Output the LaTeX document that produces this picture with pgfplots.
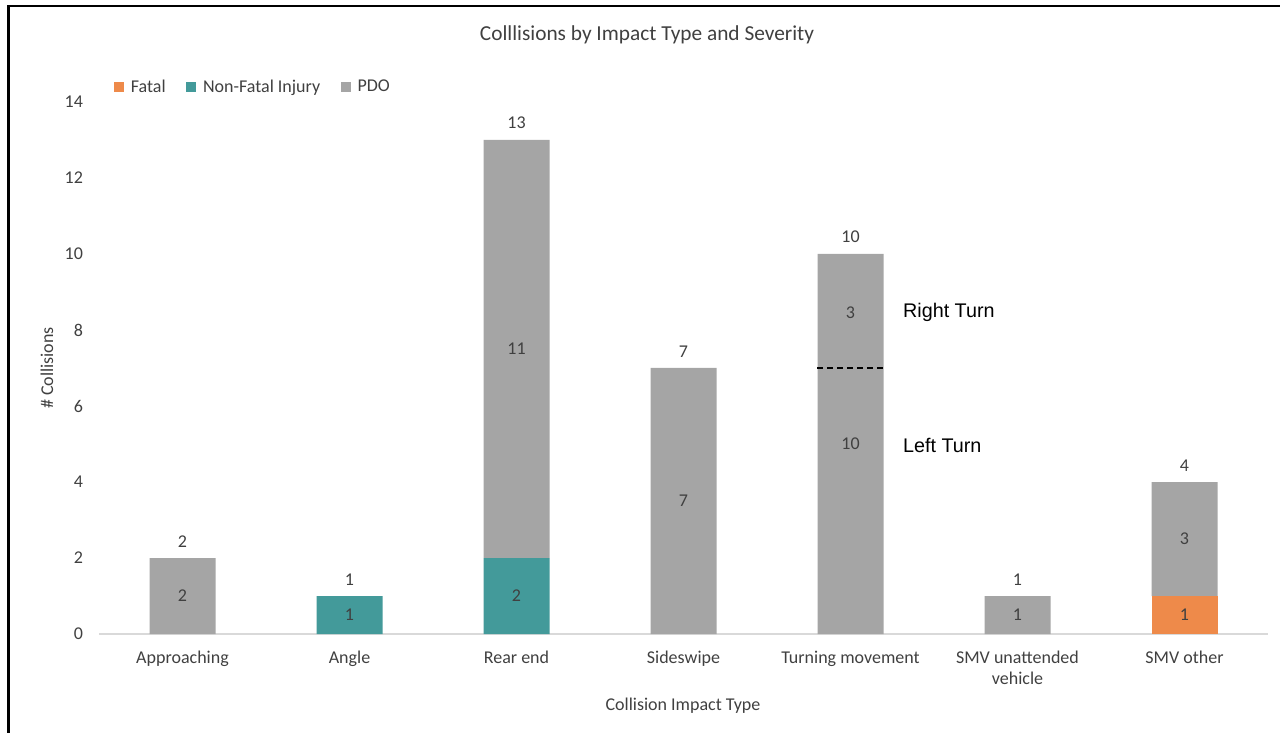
\documentclass[border=0pt]{standalone}
\usepackage{pgfplots}
\pgfplotsset{compat=1.18}
\usepackage{pgfplotstable}
\usepackage{fontspec}
\setmainfont{Carlito}
\newfontfamily\annotfont{Liberation Sans}

\definecolor{fatal}{HTML}{EE8A4A}
\definecolor{injury}{HTML}{439A9A}
\definecolor{pdo}{HTML}{A5A5A5}
\definecolor{txt}{HTML}{404040}
\definecolor{baseline}{HTML}{D9D9D9}

% collisions by impact type (x = category index) and severity
\pgfplotstableread{
x fatal injury pdo total
0 0 0 2  2
1 0 1 0  1
2 0 2 11 13
3 0 0 7  7
4 0 0 10 10
5 0 0 1  1
6 1 0 3  4
}\collisions

\newcommand\lblfont{\fontsize{13.5}{16}\selectfont}
\pgfplotsset{
  /pgf/number format/assume math mode=true,
  chart frame/.style={
    at={(74.25pt,73.5pt)}, anchor=south west,
    scale only axis, width=876.75pt, height=399pt,
    xmin=-0.5, xmax=6.5, ymin=0, ymax=14,
  },
  nonzero labels/.style={
    nodes near coords={\pgfmathfloatifflags{\pgfplotspointmeta}{0}{}{\pgfmathprintnumber{\pgfplotspointmeta}}},
    point meta=explicit,
  },
}

\begin{document}
\begin{tikzpicture}
% page, frame and titles, in pixel units measured from the top left corner
\begin{scope}[x=0.75pt,y=-0.75pt,shift={(0pt,549pt)}]
  \path[use as bounding box] (0,0) rectangle (1280,732);
  \draw[line width=1.9pt,black] (8.5,733) -- (8.5,6) -- (1281,6);
  \node[font=\fontsize{16}{18}\selectfont,text=txt] at (647,35) {Colllisions by Impact Type and Severity};
  \node[font=\lblfont,text=txt,rotate=90] at (47,368) {\# Collisions};
  \node[font=\lblfont,text=txt] at (683,706) {Collision Impact Type};
\end{scope}

% stacked bars
\begin{axis}[
  chart frame,
  ybar stacked, bar width=49.5pt,
  ytick={0,2,...,14},
  xtick={0,...,6},
  xticklabels={Approaching,Angle,Rear end,Sideswipe,Turning movement,{SMV unattended\\vehicle},SMV other},
  major tick length=0pt,
  axis x line*=bottom, axis y line*=left,
  x axis line style={draw=baseline,line width=0.9pt,-},
  y axis line style={draw=none},
  tick label style={font=\fontsize{13.5}{15.75}\selectfont,text=txt},
  xticklabel style={align=center,yshift=-9pt},
  yticklabel style={xshift=-8.5pt},
  legend style={at={(0.0128,1.028)},anchor=west,draw=none,fill=none,inner sep=0pt,
    font=\lblfont,text=txt,
    /tikz/every odd column/.append style={column sep=3pt},
    /tikz/every even column/.append style={column sep=13.5pt}},
  legend columns=-1,
  legend image code/.code={\fill[#1] (0pt,-3.75pt) rectangle (7.5pt,3.75pt);},
]
\addplot[fill=fatal,draw=none] table[x=x,y=fatal] {\collisions};
\addplot[fill=injury,draw=none] table[x=x,y=injury] {\collisions};
\addplot[fill=pdo,draw=none] table[x=x,y=pdo] {\collisions};
\legend{Fatal,Non-Fatal Injury,PDO}
\end{axis}

% value labels and notes, drawn over the bars
\begin{axis}[
  chart frame, hide axis, clip=false,
  every node near coord/.style={anchor=center,font=\lblfont,text=txt},
]
\addplot[draw=none,nonzero labels] table[x=x,y expr={\thisrow{fatal}/2},meta=fatal] {\collisions};
\addplot[draw=none,nonzero labels] table[x=x,y expr={\thisrow{fatal}+\thisrow{injury}/2},meta=injury] {\collisions};
\addplot[draw=none,nonzero labels] table[x=x,y expr={\thisrow{fatal}+\thisrow{injury}+\thisrow{pdo}/2},meta=pdo] {\collisions};
\addplot[draw=none,nonzero labels,
  every node near coord/.append style={anchor=south,inner ysep=8pt}]
  table[x=x,y expr={\thisrow{fatal}+\thisrow{injury}+\thisrow{pdo}},meta=total] {\collisions};

% split of the turning movements
\draw[black,line width=1.2pt,dash pattern=on 4.5pt off 3pt] (axis cs:3.8,7) -- (axis cs:4.2,7);
\node[font=\lblfont,text=txt] at (axis cs:4,8.45) {3};
\node[font=\annotfont\fontsize{14.8}{16}\selectfont,anchor=west,inner sep=0pt] at (axis cs:4.314,8.45) {Right Turn};
\node[font=\annotfont\fontsize{14.8}{16}\selectfont,anchor=west,inner sep=0pt] at (axis cs:4.314,4.95) {Left Turn};
\end{axis}
\end{tikzpicture}
\end{document}
